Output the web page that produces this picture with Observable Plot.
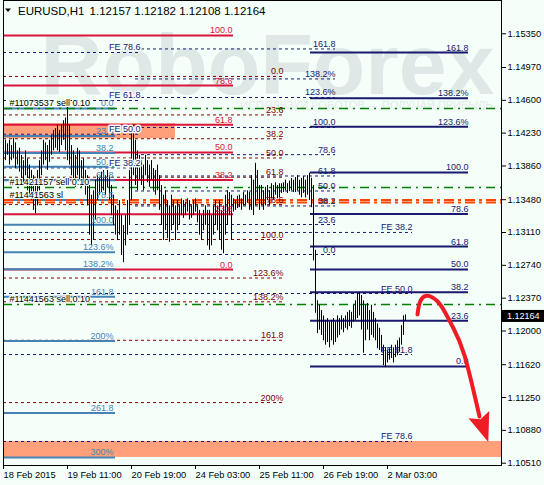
<!DOCTYPE html>
<html><head><meta charset="utf-8">
<script src="https://cdn.jsdelivr.net/npm/d3@7"></script>
<script src="https://cdn.jsdelivr.net/npm/@observablehq/plot@0.6"></script>
<style>
body{margin:0;background:#eeeeee;}
#chart{width:544px;height:485px;}
</style></head><body><div id="chart"></div>
<script>
const BG = "#f5fffa";
const FONT = "'Liberation Sans', Arial, sans-serif";

// Title / quote line (open, high, low, close of the current bar)
const symbolName = "EURUSD,H1";
const quoteOHLC = ["1.12157", "1.12182", "1.12108", "1.12164"];
const lastClose = 1.12164;

// Right price axis
const priceTicks = [1.15350,1.14970,1.14600,1.14230,1.13860,1.13480,1.13110,1.12740,1.12370,1.12000,1.11620,1.11250,1.10880,1.10510];
const priceDomain = [1.10484, 1.15725];

// Time axis: bar index (H1, weekends skipped) with the terminal's labels
const timeTickBars = [0,32,64,96,128,160,192];
const timeTickLabels = ["18 Feb 2015","19 Feb 11:00","20 Feb 19:00","24 Feb 03:00","25 Feb 11:00","26 Feb 19:00","2 Mar 03:00"];
const barDomain = [0, 249];

// H1 bars, one per hour from 18 Feb 03:00 (index = position in the arrays)
const barHigh = [
1.1409,1.1415,1.1411,1.1415,1.1409,1.1417,1.1412,1.1403,1.1406,1.1398,
1.1392,1.1403,1.1394,1.1387,1.1381,1.1375,1.1370,1.1381,1.1392,1.1403,
1.1415,1.1412,1.1409,1.1415,1.1420,1.1426,1.1428,1.1432,1.1426,1.1432,
1.1437,1.1440,1.1456,1.1432,1.1409,1.1403,1.1398,1.1406,1.1403,1.1392,
1.1394,1.1381,1.1375,1.1364,1.1353,1.1358,1.1370,1.1375,1.1372,1.1379,
1.1381,1.1375,1.1381,1.1375,1.1364,1.1353,1.1341,1.1336,1.1347,1.1330,
1.1319,1.1330,1.1347,1.1381,1.1426,1.1432,1.1415,1.1403,1.1398,1.1392,
1.1387,1.1398,1.1392,1.1387,1.1392,1.1383,1.1381,1.1387,1.1375,1.1364,
1.1353,1.1358,1.1347,1.1341,1.1353,1.1347,1.1341,1.1347,1.1341,1.1349,
1.1347,1.1345,1.1349,1.1347,1.1341,1.1347,1.1349,1.1341,1.1336,1.1330,
1.1336,1.1341,1.1336,1.1336,1.1330,1.1341,1.1347,1.1341,1.1347,1.1336,
1.1341,1.1353,1.1358,1.1356,1.1353,1.1349,1.1347,1.1352,1.1353,1.1349,
1.1356,1.1353,1.1358,1.1356,1.1375,1.1370,1.1389,1.1381,1.1364,1.1364,
1.1358,1.1362,1.1364,1.1358,1.1366,1.1364,1.1367,1.1364,1.1366,1.1366,
1.1367,1.1370,1.1366,1.1369,1.1372,1.1370,1.1373,1.1375,1.1370,1.1372,
1.1374,1.1370,1.1375,1.1378,1.1372,1.1364,1.1291,1.1234,1.1229,1.1223,
1.1217,1.1212,1.1214,1.1210,1.1212,1.1214,1.1210,1.1217,1.1214,1.1217,
1.1214,1.1217,1.1221,1.1223,1.1221,1.1229,1.1234,1.1242,1.1243,1.1240,
1.1234,1.1229,1.1231,1.1223,1.1229,1.1221,1.1214,1.1208,1.1203,1.1195,
1.1184,1.1181,1.1178,1.1180,1.1184,1.1181,1.1184,1.1189,1.1192,1.1206,
1.1217,1.12182];
const barLow = [
1.1394,1.1392,1.1398,1.1387,1.1392,1.1394,1.1383,1.1387,1.1379,1.1370,
1.1364,1.1375,1.1358,1.1353,1.1347,1.1336,1.1332,1.1341,1.1358,1.1375,
1.1387,1.1392,1.1381,1.1390,1.1398,1.1403,1.1406,1.1403,1.1401,1.1409,
1.1415,1.1403,1.1392,1.1387,1.1375,1.1370,1.1362,1.1375,1.1370,1.1362,
1.1364,1.1353,1.1341,1.1308,1.1296,1.1302,1.1325,1.1347,1.1353,1.1356,
1.1358,1.1353,1.1361,1.1347,1.1330,1.1319,1.1308,1.1302,1.1308,1.1285,
1.1277,1.1296,1.1308,1.1319,1.1347,1.1375,1.1364,1.1358,1.1370,1.1364,
1.1358,1.1375,1.1367,1.1362,1.1370,1.1358,1.1353,1.1358,1.1336,1.1319,
1.1302,1.1313,1.1304,1.1300,1.1313,1.1319,1.1302,1.1313,1.1319,1.1330,
1.1327,1.1330,1.1334,1.1325,1.1327,1.1330,1.1334,1.1322,1.1308,1.1302,
1.1313,1.1319,1.1296,1.1291,1.1296,1.1308,1.1319,1.1313,1.1302,1.1291,
1.1287,1.1308,1.1319,1.1330,1.1302,1.1334,1.1336,1.1338,1.1339,1.1336,
1.1341,1.1341,1.1344,1.1336,1.1336,1.1330,1.1341,1.1347,1.1336,1.1341,
1.1336,1.1341,1.1347,1.1341,1.1349,1.1347,1.1353,1.1349,1.1350,1.1355,
1.1356,1.1358,1.1355,1.1357,1.1358,1.1356,1.1356,1.1358,1.1353,1.1350,
1.1355,1.1350,1.1353,1.1347,1.1339,1.1279,1.1220,1.1197,1.1201,1.1195,
1.1189,1.1184,1.1187,1.1181,1.1189,1.1184,1.1187,1.1192,1.1195,1.1201,
1.1198,1.1203,1.1201,1.1205,1.1203,1.1210,1.1212,1.1214,1.1217,1.1201,
1.1175,1.1189,1.1201,1.1189,1.1195,1.1192,1.1189,1.1180,1.1178,1.1176,
1.1161,1.1159,1.1164,1.1167,1.1169,1.1164,1.1170,1.1172,1.1176,1.1184,
1.1195,1.12108];

// Fibonacci drawings: price at 0% and 100%, bar span, ratios and their captions
const crimsonAnchors = [1.12693, 1.15331];
const crimsonSpan = [0, 115];
const crimsonRatios = [0,23.6,38.2,50,61.8,78.6,100];
const crimsonLabels = ["0.0","23.6","38.2","50.0","61.8","78.6","100.0"];

const steelAnchors = [1.14508, 1.13197];
const steelSpan = [0, 56];
const steelRatios = [0,23.6,38.2,50,61.8,78.6,100,123.6,138.2,161.8,200,261.8,300];
const steelLabels = ["0.0","23.6","38.2","50.0","61.8","78.6","100.0","123.6%","138.2%","161.8","200%","261.8","300%"];

const maroonAnchors = [1.14869, 1.13031];
const maroonSpan = [0, 140];
const maroonRatios = [0,23.6,38.2,50,61.8,78.6,100,123.6,138.2,161.8,200];
const maroonLabels = ["0.0","23.6","38.2","50.0","61.8","78.6","100.0","123.6%","138.2%","161.8","200%"];

const navyDashAnchors = [1.12862, 1.14294];
const navyDashSpan = [66, 166];
const navyRatios = [0,23.6,38.2,50,61.8,78.6,100,123.6,138.2,161.8];
const navyLabels = ["0.0","23.6","38.2","50.0","61.8","78.6","100.0","123.6%","138.2%","161.8"];

const navySolidAnchors = [1.11600, 1.13787];
const navySolidSpan = [153.5, 232.5];

// Fibonacci expansions
const feRatios = [38.2,50,61.8,78.6];
const feLabels = ["FE 38.2","FE 50.0","FE 61.8","FE 78.6"];
const feLeftAnchors = [1.12608, 1.15828];
const feLeftSpan = [0, 68.5];
const feRightAnchors = [1.15338, 1.09507];
const feRightSpan = [0, 204.5];

// Target zones
const zoneX1 = [0, 0];
const zoneX2 = [86, 249];
const zoneTop = [1.14336, 1.10755];
const zoneBottom = [1.14167, 1.10575];

// Orders: entry (orange-red) and target (green) lines
const entryPrices = [1.13476, 1.13448];
const targetPrices = [1.14508, 1.13618, 1.12299];
const orderTexts = ["#11073537 sell 0.10", "#11421157 sell 0.10", "#11441563 sl", "#11441563 sell 0.10"];
const orderTextPrices = [1.14508, 1.13618, 1.13476, 1.12299];

// Forecast arrow path (bar index, price)
const arrowBars = [207, 208, 210.5, 214.5, 219, 224.5, 230.5, 238];
const arrowPrices = [1.12186, 1.12310, 1.12390, 1.12378, 1.12277, 1.12052, 1.11725, 1.11036];

function levelRows(anchors, ratios, labels, span) {
  return ratios.map((r, k) => ({
    price: anchors[0] + r / 100 * (anchors[1] - anchors[0]),
    label: labels[k], x1: span[0], x2: span[1]
  }));
}

const crimson = levelRows(crimsonAnchors, crimsonRatios, crimsonLabels, crimsonSpan);
const steel = levelRows(steelAnchors, steelRatios, steelLabels, steelSpan);
const maroon = levelRows(maroonAnchors, maroonRatios, maroonLabels, maroonSpan);
const navyDash = levelRows(navyDashAnchors, navyRatios, navyLabels, navyDashSpan);
const navySolid = levelRows(navySolidAnchors, navyRatios, navyLabels, navySolidSpan);
const feLeft = levelRows(feLeftAnchors, feRatios, feLabels, feLeftSpan);
const feRight = levelRows(feRightAnchors, feRatios, feLabels, feRightSpan);

const bars = barHigh.map((high, i) => ({i, high, low: barLow[i]}));
const zones = zoneX1.map((x1, k) => ({x1, x2: zoneX2[k], y1: zoneBottom[k], y2: zoneTop[k]}));
const orderNotes = orderTexts.map((t, k) => ({t, price: orderTextPrices[k]}));
const arrow = arrowBars.map((i, k) => ({i, price: arrowPrices[k]}));
const arrowTip = [arrow[arrow.length - 1]];
const timeLabel = new Map(timeTickBars.map((b, k) => [b, timeTickLabels[k]]));

// elongated arrow head pointing "up" from its base centre
const headSymbol = {
  draw(ctx) {
    ctx.moveTo(0, -27);
    ctx.lineTo(11, 2);
    ctx.lineTo(0, -3);
    ctx.lineTo(-11, 2);
    ctx.closePath();
  }
};

const levelLines = (rows, stroke, width, dash) =>
  Plot.ruleY(rows, {y: "price", x1: "x1", x2: "x2", stroke, strokeWidth: width, strokeDasharray: dash});
const levelText = (rows, fill, dx = 0, dy = -2, halo = false) =>
  Plot.text(rows, {x: "x2", y: "price", text: "label", fill, textAnchor: "end", lineAnchor: "bottom",
    dx, dy, fontSize: 9, ...(halo ? {stroke: BG, strokeWidth: 3} : {})});

const plot = Plot.plot({
  width: 544, height: 485,
  marginLeft: 3, marginRight: 43, marginTop: 0, marginBottom: 20,
  style: {background: BG, fontFamily: FONT, fontSize: "9px", color: "black"},
  x: {domain: barDomain, axis: null},
  y: {domain: priceDomain, axis: null},
  marks: [
    // watermark
    Plot.text(["RoboForex"], {frameAnchor: "top-left", dx: 37, dy: 32, text: d => d, fontSize: 86, fontWeight: "bold",
      fill: "#dee8e7", textAnchor: "start", lineAnchor: "top"}),
    Plot.text(["ИСПОЛЬЗУЙ РОБОТОВ — ПОЛУЧАЙ ПРИБЫЛЬ"], {frameAnchor: "top-left", dx: 489, dy: 101, text: d => d,
      fontSize: 11, fill: "#e2ebe9", textAnchor: "end", lineAnchor: "top"}),
    // target zones
    Plot.rect(zones, {x1: "x1", x2: "x2", y1: "y1", y2: "y2", fill: "#ffa07a"}),
    // fibonacci levels
    levelLines(maroon, "#800000", 1, "3,3"),
    levelLines(navyDash, "#191970", 1, "3,3"),
    levelLines(feLeft, "#191970", 1, "3,3"),
    levelLines(feRight, "#191970", 1, "3,3"),
    levelLines(crimson, "#dc143c", 2, null),
    levelLines(steel, "#4682b4", 2, null),
    levelLines(navySolid, "#191970", 2, null),
    // order lines
    Plot.ruleY(targetPrices, {stroke: "#008000", strokeWidth: 1.5, strokeDasharray: "9,5,2,5"}),
    Plot.ruleY(entryPrices, {stroke: "#ff4500", strokeWidth: 2, strokeDasharray: "10,4,3,4"}),
    // price bars
    Plot.ruleX(bars, {x: "i", y1: "low", y2: "high", stroke: "black", strokeWidth: 1}),
    // captions
    levelText(maroon, "#800000", 0, -2),
    levelText(navyDash, "#191970", 0, -2),
    levelText(crimson, "#dc143c", -1, -2),
    levelText(steel, "#4682b4", -2, -2),
    levelText(navySolid, "#191970", 0, -2),
    levelText(feLeft, "#191970", 0, -2, true),
    levelText(feRight, "#191970", 0, -2),
    Plot.text(orderNotes, {x: 3, y: "price", text: "t", textAnchor: "start", lineAnchor: "bottom", dy: -2,
      fontSize: 9, fill: "black", stroke: BG, strokeWidth: 2}),
    // forecast arrow
    Plot.line(arrow, {x: "i", y: "price", curve: "natural", stroke: "#ee1c25", strokeWidth: 4, strokeLinecap: "round"}),
    Plot.dot(arrowTip, {x: "i", y: "price", symbol: headSymbol, r: 10, fill: "#ee1c25", stroke: "none", rotate: 161}),
    // axes and frame
    Plot.axisY({anchor: "right", ticks: priceTicks, tickFormat: d => d.toFixed(5), tickSize: 4, tickPadding: 2, fontSize: 9.3}),
    Plot.axisX({anchor: "bottom", ticks: timeTickBars, tickFormat: d => timeLabel.get(d), tickSize: 4, tickPadding: 2,
      textAnchor: "start", fontSize: 9.3}),
    Plot.frame({stroke: "black"})
  ]
});

const svg = d3.select(plot);

// symbol line in the top-left corner: menu triangle, symbol and OHLC of the current bar
svg.append("path").attr("d", "M5,8.5 L11,8.5 L8,12 Z").attr("fill", "black");
const title = svg.append("text").attr("x", 18).attr("y", 15).attr("text-anchor", "start")
  .attr("font-family", FONT).attr("font-size", 11.5).attr("fill", "black");
title.append("tspan").text(symbolName);
title.append("tspan").attr("dx", 6).text(quoteOHLC.join(" "));

// current price tag on the price axis
const yTag = plot.scale("y").apply(lastClose);
const xTag = plot.scale("x").apply(barDomain[1]) + 1;
svg.append("rect").attr("x", xTag).attr("y", yTag - 6).attr("width", 544 - xTag).attr("height", 12).attr("fill", "black");
svg.append("text").attr("x", xTag + 5).attr("y", yTag + 3.5).attr("fill", "white").attr("text-anchor", "start")
  .attr("font-size", 9).attr("font-family", FONT).text(lastClose.toFixed(5));

document.getElementById("chart").appendChild(plot);
</script></body></html>
